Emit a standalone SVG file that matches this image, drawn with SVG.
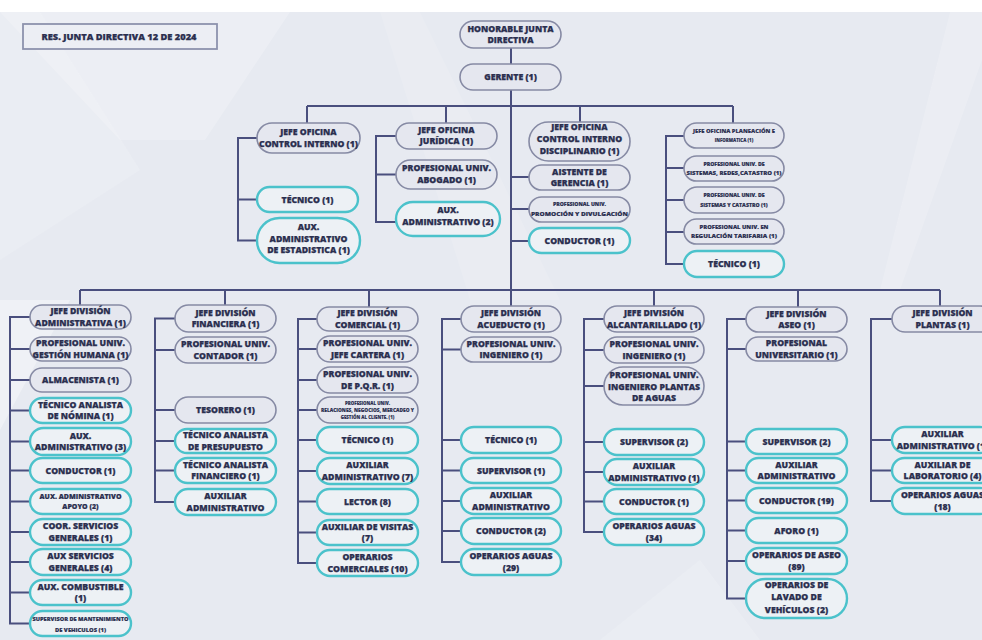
<svg xmlns="http://www.w3.org/2000/svg" width="982" height="640" viewBox="0 0 982 640">
<style>
.g{fill:#e5e7ef;stroke:#868aa4;stroke-width:1.6}
.c{fill:#edf1f5;stroke:#4bc2cb;stroke-width:2.4}
.ln{fill:none;stroke:#4a4f7e;stroke-width:2}
text{font-family:"Open Sans","DejaVu Sans",sans-serif;font-weight:800;fill:#2b2f4f;stroke:#2b2f4f;stroke-width:0.25;text-anchor:middle;font-size:8.7px}
.m{font-size:7px;stroke-width:0.2}
.s{font-size:5.8px;stroke-width:0.15}
.xs{font-size:5.2px;stroke-width:0.15}
.xxs{font-size:4.4px;stroke-width:0.1}
</style>
<g id="background">
<rect width="982" height="640" fill="#e7eaf1"/>
<polygon points="0,12 290,12 205,140 120,140" fill="#ffffff" opacity="0.22"/>
<polygon points="0,12 40,12 140,170 0,260" fill="#ffffff" opacity="0.15"/>
<polygon points="380,12 420,12 560,300 470,300" fill="#ffffff" opacity="0.12"/>
<polygon points="0,300 70,300 0,430" fill="#ffffff" opacity="0.35"/>
<polygon points="950,12 982,12 982,60 900,290 880,290" fill="#ffffff" opacity="0.18"/>
<polygon points="600,640 700,560 760,640" fill="#ffffff" opacity="0.15"/>
<rect width="982" height="12" fill="#ffffff"/>
</g>
<g id="title">
<rect x="23" y="24" width="194" height="25" fill="#eceef4" stroke="#8d92ad" stroke-width="1.8"/>
<text x="119" y="39.5" font-size="8.8" textLength="155" lengthAdjust="spacingAndGlyphs">RES. JUNTA DIRECTIVA 12 DE 2024</text>
</g>
<g id="connectors" class="ln">
<path d="M511,48V64 M511,90V306 M307,106H733 M307,106V123 M446,106V123 M580,106V122 M733,106V123"/>
<path d="M257,138H238V240.5H257 M238,199.5H257"/>
<path d="M396,136H376V222H396 M376,174.5H396"/>
<path d="M511,177H529 M511,209H529 M511,241H529"/>
<path d="M684,136H666V264H684 M666,168H684 M666,200H684 M666,232H684"/>
<path d="M80,290H940 M80,290V305 M225,290V305 M369,290V307 M654,290V306 M798,290V307 M940,290V306"/>
<path d="M30,317H10V623.5H30 M10,349H30 M10,380H30 M10,410.5H30 M10,441.5H30 M10,470.5H30 M10,501.5H30 M10,532H30 M10,562H30 M10,592.5H30"/>
<path d="M175,318.5H155V502H175 M155,350H175 M155,410H175 M155,441H175 M155,470.5H175"/>
<path d="M317,319H298V563H317 M298,349H317 M298,380H317 M298,410H317 M298,440H317 M298,471H317 M298,501.5H317 M298,532.5H317"/>
<path d="M461,319H442V562H461 M442,349.5H461 M442,440H461 M442,470.5H461 M442,501H461 M442,531H461"/>
<path d="M604,319H584V532H604 M584,350H604 M584,386H604 M584,442H604 M584,472H604 M584,501.5H604"/>
<path d="M746,319H727V598.5H746 M727,349H746 M727,441.5H746 M727,470.5H746 M727,500.5H746 M727,530.5H746 M727,561H746"/>
<path d="M892,319H871V501H892 M871,440H892 M871,470.5H892"/>
</g>
<g id="n-junta"><rect class="g" x="460" y="21" width="101" height="27" rx="13.5"/><text><tspan x="510.5" y="32">HONORABLE JUNTA</tspan><tspan x="510.5" y="43">DIRECTIVA</tspan></text></g>
<g id="n-gerente"><rect class="g" x="460" y="64" width="101" height="26" rx="13"/><text x="510.5" y="80">GERENTE (1)</text></g>
<g id="n-jefe-ci"><rect class="g" x="257" y="123" width="103" height="30" rx="15"/><text><tspan x="308.5" y="135">JEFE OFICINA</tspan><tspan x="308.5" y="146.5">CONTROL INTERNO (1)</tspan></text></g>
<g id="n-tecnico-ci"><rect class="c" x="257" y="187" width="101" height="25" rx="12.5"/><text x="307.5" y="202.5">TÉCNICO (1)</text></g>
<g id="n-aux-est"><rect class="c" x="257" y="218" width="103" height="45" rx="22.5"/><text><tspan x="308.5" y="230">AUX.</tspan><tspan x="308.5" y="241.5">ADMINISTRATIVO</tspan><tspan x="308.5" y="253">DE ESTADISTICA (1)</tspan></text></g>
<g id="n-jefe-jur"><rect class="g" x="396" y="123" width="101" height="26" rx="13"/><text><tspan x="446.5" y="132.5">JEFE OFICINA</tspan><tspan x="446.5" y="143.5">JURÍDICA  (1)</tspan></text></g>
<g id="n-abogado"><rect class="g" x="396" y="160" width="101" height="29" rx="14.5"/><text><tspan x="446.5" y="171">PROFESIONAL UNIV.</tspan><tspan x="446.5" y="182.5">ABOGADO (1)</tspan></text></g>
<g id="n-aux2"><rect class="c" x="396" y="202" width="104" height="34" rx="17"/><text><tspan x="448" y="213">AUX.</tspan><tspan x="448" y="224.5">ADMINISTRATIVO (2)</tspan></text></g>
<g id="n-jefe-cid"><rect class="g" x="529" y="122" width="101" height="39" rx="19.5"/><text><tspan x="579.5" y="130">JEFE OFICINA</tspan><tspan x="579.5" y="142">CONTROL INTERNO</tspan><tspan x="579.5" y="154">DISCIPLINARIO (1)</tspan></text></g>
<g id="n-aistente"><rect class="g" x="529" y="165" width="101" height="25" rx="12.5"/><text><tspan x="579.5" y="174.5">AISTENTE DE</tspan><tspan x="579.5" y="186">GERENCIA (1)</tspan></text></g>
<g id="n-promocion"><rect class="g" x="529" y="197" width="101" height="25" rx="12.5"/><text class="xs"><tspan x="579.5" y="206">PROFESIONAL UNIV.</tspan><tspan x="579.5" y="215.5" textLength="97" lengthAdjust="spacingAndGlyphs">PROMOCIÓN Y DIVULGACIÓN</tspan></text></g>
<g id="n-conductor-g"><rect class="c" x="529" y="228" width="101" height="25" rx="12.5"/><text x="579.5" y="243.5">CONDUCTOR (1)</text></g>
<g id="n-planeacion"><rect class="g" x="684" y="123" width="100" height="25" rx="12.5"/><text class="xxs"><tspan x="734" y="133" textLength="82" lengthAdjust="spacingAndGlyphs">JEFE OFICINA PLANEACIÓN E</tspan><tspan x="734" y="142">INFORMATICA (1)</tspan></text></g>
<g id="n-redes"><rect class="g" x="684" y="156" width="100" height="25" rx="12.5"/><text class="xs"><tspan x="734" y="165.5">PROFESIONAL UNIV. DE</tspan><tspan x="734" y="175" textLength="95" lengthAdjust="spacingAndGlyphs">SISTEMAS, REDES,CATASTRO (1)</tspan></text></g>
<g id="n-sistemas"><rect class="g" x="684" y="187" width="100" height="26" rx="13"/><text class="xs"><tspan x="734" y="197">PROFESIONAL UNIV.  DE</tspan><tspan x="734" y="206.5">SISTEMAS Y CATASTRO (1)</tspan></text></g>
<g id="n-regulacion"><rect class="g" x="684" y="219" width="100" height="25" rx="12.5"/><text class="s"><tspan x="734" y="228.5">PROFESIONAL UNIV. EN</tspan><tspan x="734" y="238" textLength="86" lengthAdjust="spacingAndGlyphs">REGULACIÓN TARIFARIA (1)</tspan></text></g>
<g id="n-tecnico-p"><rect class="c" x="684" y="251" width="100" height="26" rx="13"/><text x="734" y="267">TÉCNICO (1)</text></g>

<g id="n-jefe-adm"><rect class="g" x="30" y="305" width="101" height="24" rx="12"/><text><tspan x="80.5" y="314">JEFE DIVISIÓN</tspan><tspan x="80.5" y="325.5">ADMINISTRATIVA (1)</tspan></text></g>
<g id="n-gestion"><rect class="g" x="30" y="337" width="101" height="24" rx="12"/><text><tspan x="80.5" y="346">PROFESIONAL UNIV.</tspan><tspan x="80.5" y="357.5">GESTIÓN HUMANA (1)</tspan></text></g>
<g id="n-almacenista"><rect class="g" x="30" y="368" width="101" height="24" rx="12"/><text x="80.5" y="383">ALMACENISTA  (1)</text></g>
<g id="n-nomina"><rect class="c" x="30" y="398" width="101" height="25" rx="12.5"/><text><tspan x="80.5" y="407.5">TÉCNICO ANALISTA</tspan><tspan x="80.5" y="419">DE NÓMINA (1)</tspan></text></g>
<g id="n-aux3"><rect class="c" x="30" y="428" width="101" height="27" rx="13.5"/><text><tspan x="80.5" y="438.5">AUX.</tspan><tspan x="80.5" y="450">ADMINISTRATIVO (3)</tspan></text></g>
<g id="n-conductor-adm"><rect class="c" x="30" y="458" width="101" height="25" rx="12.5"/><text x="80.5" y="473.5">CONDUCTOR (1)</text></g>
<g id="n-apoyo"><rect class="c" x="30" y="489" width="101" height="25" rx="12.5"/><text class="m"><tspan x="80.5" y="499">AUX. ADMINISTRATIVO</tspan><tspan x="80.5" y="509">APOYO (2)</tspan></text></g>
<g id="n-coor"><rect class="c" x="30" y="519" width="101" height="26" rx="13"/><text><tspan x="80.5" y="529">COOR. SERVICIOS</tspan><tspan x="80.5" y="540.5">GENERALES (1)</tspan></text></g>
<g id="n-auxserv"><rect class="c" x="30" y="549" width="101" height="26" rx="13"/><text><tspan x="80.5" y="559">AUX SERVICIOS</tspan><tspan x="80.5" y="570.5">GENERALES (4)</tspan></text></g>
<g id="n-combustible"><rect class="c" x="30" y="580" width="101" height="25" rx="12.5"/><text><tspan x="80.5" y="589.5">AUX. COMBUSTIBLE</tspan><tspan x="80.5" y="601">(1)</tspan></text></g>
<g id="n-supmant"><rect class="c" x="30" y="611" width="101" height="25" rx="12.5"/><text class="s"><tspan x="80.5" y="621" textLength="96" lengthAdjust="spacingAndGlyphs">SUPERVISOR DE MANTENIMIENTO</tspan><tspan x="80.5" y="631.5">DE VEHICULOS  (1)</tspan></text></g>

<g id="n-jefe-fin"><rect class="g" x="175" y="305" width="101" height="27" rx="13.5"/><text><tspan x="225.5" y="315.5">JEFE DIVISIÓN</tspan><tspan x="225.5" y="327">FINANCIERA (1)</tspan></text></g>
<g id="n-contador"><rect class="g" x="175" y="337" width="101" height="26" rx="13"/><text><tspan x="225.5" y="347">PROFESIONAL UNIV.</tspan><tspan x="225.5" y="358.5">CONTADOR (1)</tspan></text></g>
<g id="n-tesorero"><rect class="g" x="175" y="397" width="101" height="26" rx="13"/><text x="225.5" y="413">TESORERO (1)</text></g>
<g id="n-presupuesto"><rect class="c" x="175" y="429" width="101" height="24" rx="12"/><text><tspan x="225.5" y="438">TÉCNICO ANALISTA</tspan><tspan x="225.5" y="449.5">DE PRESUPUESTO</tspan></text></g>
<g id="n-financiero"><rect class="c" x="175" y="458" width="101" height="25" rx="12.5"/><text><tspan x="225.5" y="467.5">TÉCNICO ANALISTA</tspan><tspan x="225.5" y="479">FINANCIERO (1)</tspan></text></g>
<g id="n-auxadm-fin"><rect class="c" x="175" y="489" width="101" height="26" rx="13"/><text><tspan x="225.5" y="499">AUXILIAR</tspan><tspan x="225.5" y="510.5">ADMINISTRATIVO</tspan></text></g>

<g id="n-jefe-com"><rect class="g" x="317" y="307" width="101" height="24" rx="12"/><text><tspan x="367.5" y="316">JEFE DIVISIÓN</tspan><tspan x="367.5" y="327.5">COMERCIAL (1)</tspan></text></g>
<g id="n-cartera"><rect class="g" x="317" y="336" width="101" height="26" rx="13"/><text><tspan x="367.5" y="346">PROFESIONAL UNIV.</tspan><tspan x="367.5" y="357.5">JEFE CARTERA (1)</tspan></text></g>
<g id="n-pqr"><rect class="g" x="317" y="367" width="101" height="26" rx="13"/><text><tspan x="367.5" y="377">PROFESIONAL UNIV.</tspan><tspan x="367.5" y="388.5">DE P.Q.R. (1)</tspan></text></g>
<g id="n-relaciones"><rect class="g" x="317" y="397" width="101" height="26" rx="13"/><text class="xxs"><tspan x="367.5" y="405">PROFESIONAL UNIV.</tspan><tspan x="367.5" y="412" textLength="93" lengthAdjust="spacingAndGlyphs">RELACIONES, NEGOCIOS, MERCADEO Y</tspan><tspan x="367.5" y="419">GESTIÓN AL CLIENTE. (1)</tspan></text></g>
<g id="n-tecnico-com"><rect class="c" x="317" y="427" width="101" height="26" rx="13"/><text x="367.5" y="443">TÉCNICO (1)</text></g>
<g id="n-aux7"><rect class="c" x="317" y="458" width="101" height="26" rx="13"/><text><tspan x="367.5" y="468">AUXILIAR</tspan><tspan x="367.5" y="479.5">ADMINISTRATIVO (7)</tspan></text></g>
<g id="n-lector"><rect class="c" x="317" y="489" width="101" height="25" rx="12.5"/><text x="367.5" y="504.5">LECTOR (8)</text></g>
<g id="n-visitas"><rect class="c" x="317" y="520" width="101" height="25" rx="12.5"/><text><tspan x="367.5" y="529.5">AUXILIAR DE VISITAS</tspan><tspan x="367.5" y="541">(7)</tspan></text></g>
<g id="n-opcom"><rect class="c" x="317" y="550" width="101" height="26" rx="13"/><text><tspan x="367.5" y="560">OPERARIOS</tspan><tspan x="367.5" y="571.5">COMERCIALES (10)</tspan></text></g>

<g id="n-jefe-acu"><rect class="g" x="461" y="306" width="100" height="26" rx="13"/><text><tspan x="511" y="316">JEFE DIVISIÓN</tspan><tspan x="511" y="327.5">ACUEDUCTO (1)</tspan></text></g>
<g id="n-ing-acu"><rect class="g" x="461" y="337" width="100" height="25" rx="12.5"/><text><tspan x="511" y="346.5">PROFESIONAL UNIV.</tspan><tspan x="511" y="358">INGENIERO (1)</tspan></text></g>
<g id="n-tecnico-acu"><rect class="c" x="461" y="427" width="100" height="26" rx="13"/><text x="511" y="443">TÉCNICO (1)</text></g>
<g id="n-sup-acu"><rect class="c" x="461" y="458" width="100" height="25" rx="12.5"/><text x="511" y="473.5">SUPERVISOR (1)</text></g>
<g id="n-aux-acu"><rect class="c" x="461" y="488" width="100" height="26" rx="13"/><text><tspan x="511" y="498">AUXILIAR</tspan><tspan x="511" y="509.5">ADMINISTRATIVO</tspan></text></g>
<g id="n-cond-acu"><rect class="c" x="461" y="518" width="100" height="26" rx="13"/><text x="511" y="534">CONDUCTOR (2)</text></g>
<g id="n-op-acu"><rect class="c" x="461" y="549" width="100" height="26" rx="13"/><text><tspan x="511" y="559">OPERARIOS AGUAS</tspan><tspan x="511" y="570.5">(29)</tspan></text></g>

<g id="n-jefe-alc"><rect class="g" x="604" y="306" width="100" height="26" rx="13"/><text><tspan x="654" y="316">JEFE DIVISIÓN</tspan><tspan x="654" y="327.5">ALCANTARILLADO (1)</tspan></text></g>
<g id="n-ing-alc"><rect class="g" x="604" y="337" width="100" height="26" rx="13"/><text><tspan x="654" y="347">PROFESIONAL UNIV.</tspan><tspan x="654" y="358.5">INGENIERO (1)</tspan></text></g>
<g id="n-plantas-alc"><rect class="g" x="604" y="367" width="100" height="38" rx="19"/><text><tspan x="654" y="378">PROFESIONAL UNIV.</tspan><tspan x="654" y="389.5">INGENIERO PLANTAS</tspan><tspan x="654" y="401">DE AGUAS</tspan></text></g>
<g id="n-sup-alc"><rect class="c" x="604" y="429" width="100" height="26" rx="13"/><text x="654" y="445">SUPERVISOR (2)</text></g>
<g id="n-aux-alc"><rect class="c" x="604" y="459" width="100" height="26" rx="13"/><text><tspan x="654" y="469">AUXILIAR</tspan><tspan x="654" y="480.5">ADMINISTRATIVO (1)</tspan></text></g>
<g id="n-cond-alc"><rect class="c" x="604" y="489" width="100" height="25" rx="12.5"/><text x="654" y="504.5">CONDUCTOR (1)</text></g>
<g id="n-op-alc"><rect class="c" x="604" y="519" width="100" height="26" rx="13"/><text><tspan x="654" y="529">OPERARIOS AGUAS</tspan><tspan x="654" y="540.5">(34)</tspan></text></g>

<g id="n-jefe-aseo"><rect class="g" x="746" y="307" width="101" height="25" rx="12.5"/><text><tspan x="796.5" y="316.5">JEFE DIVISIÓN</tspan><tspan x="796.5" y="328">ASEO (1)</tspan></text></g>
<g id="n-prof-aseo"><rect class="g" x="746" y="337" width="101" height="24" rx="12"/><text><tspan x="796.5" y="346">PROFESIONAL</tspan><tspan x="796.5" y="357.5">UNIVERSITARIO (1)</tspan></text></g>
<g id="n-sup-aseo"><rect class="c" x="746" y="429" width="101" height="25" rx="12.5"/><text x="796.5" y="444.5">SUPERVISOR (2)</text></g>
<g id="n-aux-aseo"><rect class="c" x="746" y="458" width="101" height="25" rx="12.5"/><text><tspan x="796.5" y="467.5">AUXILIAR</tspan><tspan x="796.5" y="479">ADMINISTRATIVO</tspan></text></g>
<g id="n-cond-aseo"><rect class="c" x="746" y="488" width="101" height="25" rx="12.5"/><text x="796.5" y="503.5">CONDUCTOR (19)</text></g>
<g id="n-aforo"><rect class="c" x="746" y="518" width="101" height="25" rx="12.5"/><text x="796.5" y="533.5">AFORO (1)</text></g>
<g id="n-op-aseo"><rect class="c" x="746" y="548" width="101" height="26" rx="13"/><text><tspan x="796.5" y="558">OPERARIOS DE ASEO</tspan><tspan x="796.5" y="569.5">(89)</tspan></text></g>
<g id="n-lavado"><rect class="c" x="746" y="579" width="101" height="39" rx="19.5"/><text><tspan x="796.5" y="587.5">OPERARIOS DE</tspan><tspan x="796.5" y="600">LAVADO DE</tspan><tspan x="796.5" y="612.5">VEHÍCULOS (2)</tspan></text></g>

<g id="n-jefe-plantas"><rect class="g" x="892" y="306" width="101" height="26" rx="13"/><text><tspan x="942.5" y="316">JEFE DIVISIÓN</tspan><tspan x="942.5" y="327.5">PLANTAS  (1)</tspan></text></g>
<g id="n-aux-plantas"><rect class="c" x="892" y="427" width="101" height="26" rx="13"/><text><tspan x="942.5" y="437">AUXILIAR</tspan><tspan x="942.5" y="448.5">ADMINISTRATIVO (1)</tspan></text></g>
<g id="n-lab"><rect class="c" x="892" y="458" width="101" height="25" rx="12.5"/><text><tspan x="942.5" y="467.5">AUXILIAR DE</tspan><tspan x="942.5" y="479">LABORATORIO (4)</tspan></text></g>
<g id="n-op-plantas"><rect class="c" x="892" y="488" width="101" height="26" rx="13"/><text><tspan x="942.5" y="498">OPERARIOS AGUAS</tspan><tspan x="942.5" y="509.5">(18)</tspan></text></g>
</svg>
